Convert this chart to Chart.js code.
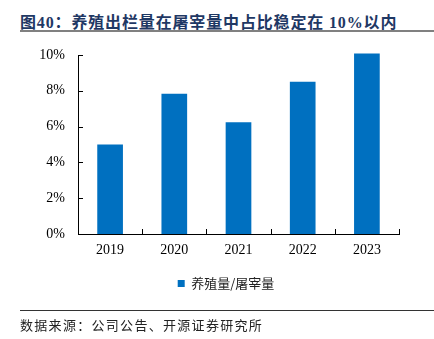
<!DOCTYPE html>
<html>
<head>
<meta charset="utf-8">
<script src="https://cdn.jsdelivr.net/npm/chart.js@4"></script>
<style>
  html, body { margin: 0; padding: 0; background: #fff; }
  body { width: 434px; height: 339px; position: relative; overflow: hidden; }
  #title { position: absolute; left: 20px; top: 9px; font: bold 16px "Liberation Serif", "Noto Sans CJK SC", serif; color: #1f3864; letter-spacing: 0.85px; white-space: nowrap; }
  #tline { position: absolute; left: 20px; top: 30px; width: 414px; height: 2px; background: #808080; }
  #bline { position: absolute; left: 20px; top: 310px; width: 414px; height: 1px; background: #333; }
  #source { position: absolute; left: 20px; top: 315px; font: 13px "Noto Sans CJK SC", sans-serif; color: #222; letter-spacing: 1.3px; white-space: nowrap; }
  #c { position: absolute; left: 0; top: 0; }
</style>
</head>
<body>
<div id="title">图40：养殖出栏量在屠宰量中占比稳定在 10%以内</div>
<div id="tline"></div>
<canvas id="c" width="434" height="339"></canvas>
<div id="bline"></div>
<div id="source">数据来源：公司公告、开源证券研究所</div>
<script>
const categories = ["2019", "2020", "2021", "2022", "2023"];
const seriesName = "养殖量/屠宰量";
const seriesValues = [5.0, 7.84, 6.25, 8.5, 10.08];
const yTickStep = 2;
const yMin = 0, yMax = 10;

const innerTicks = {
  id: 'innerTicks',
  afterDraw(chart) {
    const ctx = chart.ctx;
    const x = chart.scales.x, y = chart.scales.y;
    ctx.save();
    ctx.strokeStyle = '#000';
    ctx.lineWidth = 1;
    ctx.beginPath();
    y.ticks.forEach(t => {
      const py = Math.round(y.getPixelForValue(t.value)) + 0.5;
      ctx.moveTo(x.left, py); ctx.lineTo(x.left + 5, py);
    });
    const n = categories.length;
    for (let i = 1; i <= n; i++) {
      const px = Math.round(x.getPixelForValue(i - 0.5)) + 0.5;
      ctx.moveTo(px, y.bottom); ctx.lineTo(px, y.bottom - 5);
    }
    ctx.stroke();
    ctx.restore();
  }
};

new Chart(document.getElementById('c'), {
  type: 'bar',
  data: {
    labels: categories,
    datasets: [{
      label: seriesName,
      data: seriesValues,
      backgroundColor: '#0070c0',
      borderWidth: 0,
      categoryPercentage: 1,
      barPercentage: 0.4,
      clip: false
    }]
  },
  options: {
    responsive: false,
    animation: false,
    devicePixelRatio: 1,
    layout: { padding: { left: 38, right: 20, top: 55, bottom: 39 } },
    plugins: {
      tooltip: { enabled: false },
      legend: {
        position: 'bottom',
        labels: {
          boxWidth: 7, boxHeight: 7, padding: 10,
          color: '#222',
          font: { family: '"Noto Sans CJK SC", sans-serif', size: 13 }
        }
      }
    },
    scales: {
      x: {
        grid: { display: false, drawTicks: false },
        border: { display: true, color: '#000', width: 1 },
        ticks: { color: '#000', padding: 8, font: { family: '"Liberation Serif", serif', size: 14 } },
        afterFit(s) { s.height = 33; }
      },
      y: {
        min: yMin, max: yMax,
        grid: { display: false, drawTicks: false },
        border: { display: true, color: '#000', width: 1 },
        ticks: {
          stepSize: yTickStep,
          color: '#000', padding: 13,
          font: { family: '"Liberation Serif", serif', size: 14 },
          callback: v => v + '%'
        },
        afterFit(s) { s.width = 40; }
      },
      y2: {
        position: 'right',
        display: true,
        grid: { display: false, drawTicks: false },
        border: { display: false },
        ticks: { display: false },
        afterFit(s) { s.width = 15; }
      }
    }
  },
  plugins: [innerTicks]
});
</script>
</body>
</html>
